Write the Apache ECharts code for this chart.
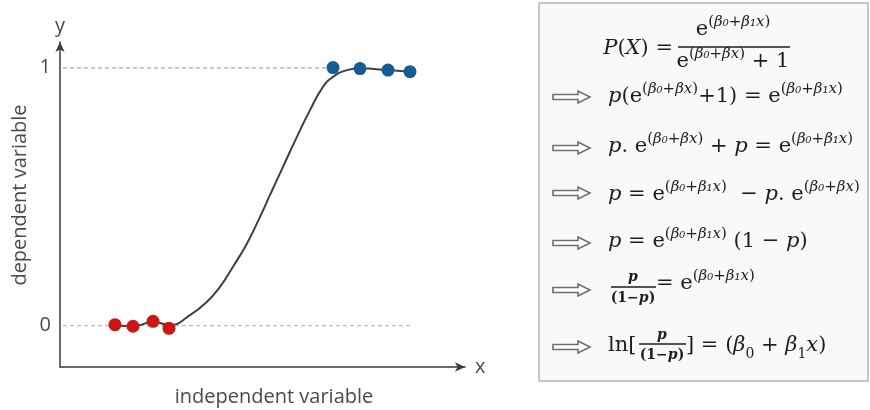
<!DOCTYPE html>
<html>
<head>
<meta charset="utf-8">
<script src="https://cdn.jsdelivr.net/npm/echarts@6/dist/echarts.min.js"></script>
<style>html,body{margin:0;padding:0;background:#fff}#c{width:870px;height:410px}</style>
</head>
<body>
<div id="c"></div>
<script>
// ---- data (independent variable in arbitrary units, dependent variable 0..1) ----
const redX = [55, 73, 93, 109];
const redY = [0.004, -0.002, 0.017, -0.010];
const blueX = [273, 300, 328, 350];
const blueY = [1.001, 0.997, 0.991, 0.985];
const curveX = [55, 73, 93, 110, 130, 147, 160, 173, 187, 200, 210, 223, 237, 250, 263, 273, 287, 300, 328, 350];
const curveY = [0.004, -0.002, 0.014, 0.003, 0.041, 0.093, 0.151, 0.229, 0.319, 0.422, 0.507, 0.616, 0.733, 0.836, 0.926, 0.965, 0.991, 0.998, 0.991, 0.985];
const refLevels = [0, 1];
const refEndX = [350, 268];
const refStartX = 3;
const yTickLabels = [0, 1];

const zip = (xs, ys) => xs.map((x, i) => [x, ys[i]]);

const chart = echarts.init(document.getElementById('c'));
const SANS = "'Open Sans','Noto Sans',sans-serif";
const SERIF = "'DejaVu Serif','Liberation Serif',serif";
const TXT = '#1e1e1e';

const rich = {
  i: {fontFamily: SERIF, fontStyle: 'italic', fontSize: 21, lineHeight: 30, fill: TXT},
  u: {fontFamily: SERIF, fontSize: 21, lineHeight: 30, fill: TXT},
  si: {fontFamily: SERIF, fontStyle: 'italic', fontSize: 15, lineHeight: 18, verticalAlign: 'top', fill: TXT},
  su: {fontFamily: SERIF, fontSize: 15, lineHeight: 18, verticalAlign: 'top', fill: TXT},
  b: {fontFamily: SERIF, fontSize: 14, lineHeight: 20, verticalAlign: 'bottom', fill: TXT}
};
const richSmall = {
  s: {fontFamily: SERIF, fontSize: 14, fontWeight: 'bold', fill: TXT},
  si: {fontFamily: SERIF, fontSize: 14, fontStyle: 'italic', fontWeight: 'bold', fill: TXT}
};
const E = (s) => `{u|e}{su|(}{si|${s}}{su|)}`;
const E1 = E('β₀+β₁x');
const E0 = E('β₀+βx');

function mtext(x, y, text, align) {
  return {type: 'text', x: x, y: y, z: 10,
    style: {text: text, rich: rich, align: align || 'left', verticalAlign: 'middle', fill: TXT}};
}
function stext(x, y, text) {
  return {type: 'text', x: x, y: y, z: 10,
    style: {text: text, rich: richSmall, align: 'center', verticalAlign: 'middle', fill: TXT}};
}
function bar(x1, x2, y) {
  return {type: 'line', z: 10, shape: {x1: x1, y1: y, x2: x2, y2: y}, style: {stroke: TXT, lineWidth: 1.3}};
}
function arrow(y) {
  const x0 = 553, xh = 578, xt = 590;
  return {type: 'polygon', z: 10,
    shape: {points: [[x0, y - 2.5], [xh, y - 2.5], [xh, y - 6], [xt, y], [xh, y + 6], [xh, y + 2.5], [x0, y + 2.5]]},
    style: {fill: '#fff', stroke: '#6f6f6f', lineWidth: 1.6}};
}

const graphics = [
  {type: 'rect', z: 1, shape: {x: 539, y: 3, width: 329, height: 378},
    style: {fill: '#f9f9f9', stroke: '#b5b5b5', lineWidth: 1.5}},
  // line 1
  mtext(673, 49, '{i|P}{u|(}{i|X}{u|) =}', 'right'),
  mtext(733, 30, E1, 'center'),
  bar(678, 790, 47),
  mtext(733, 62, E0 + '{u| + 1}', 'center'),
  // line 2
  arrow(97),
  mtext(608, 97, '{i|p}{u|(}' + E0 + '{u|+1) = }' + E1),
  // line 3
  arrow(148),
  mtext(608, 147, '{i|p}{u|. }' + E0 + '{u| + }{i|p}{u| = }' + E1),
  // line 4
  arrow(193),
  mtext(608, 195, '{i|p}{u| = }' + E1 + '{u|  − }{i|p}{u|. }' + E0),
  // line 5
  arrow(243),
  mtext(608, 242, '{i|p}{u| = }' + E1 + '{u| (1 − }{i|p}{u|)}'),
  // line 6
  arrow(290),
  stext(633, 277, '{si|p}'),
  bar(611, 656, 287),
  stext(633, 298, '{s|(1−}{si|p}{s|)}'),
  mtext(656, 284, '{u|= }' + E1),
  // line 7
  arrow(347),
  mtext(608, 346, '{u|ln[}'),
  stext(662, 335, '{si|p}'),
  bar(639, 686, 344),
  stext(662, 355, '{s|(1−}{si|p}{s|)}'),
  mtext(686, 346, '{u|] = (}{i|β}{b|0}{u| + }{i|β}{b|1}{i|x}{u|)}'),
  // axis titles
  {type: 'text', x: 20, y: 195, rotation: Math.PI / 2,
    style: {text: 'dependent variable', font: '20px ' + SANS, fill: '#4a4a4a', align: 'center', verticalAlign: 'middle'}},
  {type: 'text', x: 274, y: 397,
    style: {text: 'independent variable', font: '20px ' + SANS, fill: '#4a4a4a', align: 'center', verticalAlign: 'middle'}}
];

const dashStyle = {color: '#aaaaaa', width: 1.2, type: [4, 3]};

const option = {
  animation: false,
  backgroundColor: '#fff',
  grid: {left: 60, top: 42, width: 405, height: 325},
  xAxis: {
    type: 'value', min: 0, max: 405,
    name: 'x', nameLocation: 'end', nameGap: 10,
    nameTextStyle: {fontSize: 20, color: '#4a4a4a', fontFamily: SANS, verticalAlign: 'middle', padding: [0, 0, 6, 0]},
    axisLine: {show: true, onZero: false, symbol: ['none', 'arrow'], symbolSize: [7, 10],
      lineStyle: {color: '#3a3a3a', width: 1.5}},
    axisTick: {show: false}, axisLabel: {show: false}, splitLine: {show: false}
  },
  yAxis: {
    type: 'value', min: -0.16, max: 1.1,
    name: 'y', nameLocation: 'end', nameGap: 6,
    nameTextStyle: {fontSize: 20, color: '#4a4a4a', fontFamily: SANS},
    axisLine: {show: true, onZero: false, symbol: ['none', 'arrow'], symbolSize: [7, 10],
      lineStyle: {color: '#3a3a3a', width: 1.5}},
    axisTick: {show: false},
    axisLabel: {show: true, customValues: yTickLabels, fontSize: 20, color: '#4a4a4a', fontFamily: SANS, margin: 9},
    splitLine: {show: false}
  },
  series: [
    ...refLevels.map((lv, k) => ({
      type: 'line', symbol: 'none', silent: true, z: 1,
      data: [[refStartX, lv], [refEndX[k], lv]],
      lineStyle: dashStyle
    })),
    {
      type: 'line', symbol: 'none', smooth: 0.5, z: 2,
      data: zip(curveX, curveY),
      lineStyle: {color: '#404040', width: 2}
    },
    {
      type: 'scatter', symbolSize: 13, z: 3,
      data: zip(redX, redY),
      itemStyle: {color: '#cc1616', opacity: 1}
    },
    {
      type: 'scatter', symbolSize: 13, z: 3,
      data: zip(blueX, blueY),
      itemStyle: {color: '#165a96', opacity: 1}
    }
  ],
  graphic: graphics
};
chart.setOption(option);
</script>
</body>
</html>
